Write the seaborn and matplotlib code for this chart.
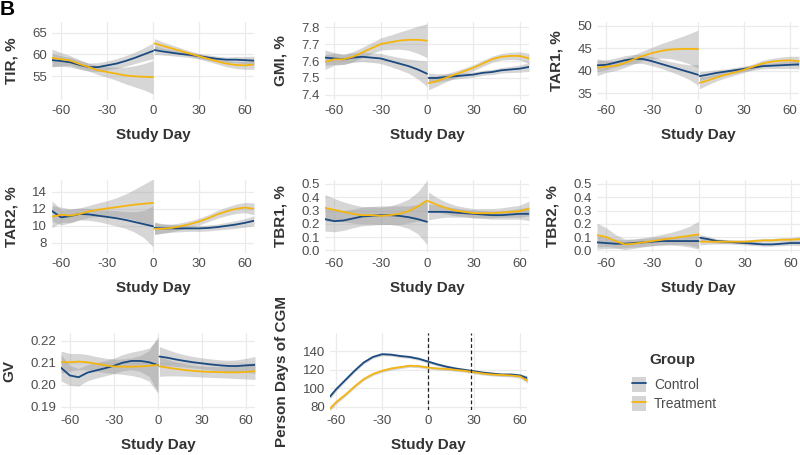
import numpy as np
import pandas as pd
import matplotlib
matplotlib.use("Agg")
import matplotlib.pyplot as plt
import seaborn as sns
from matplotlib.lines import Line2D
from matplotlib.patches import Patch

sns.set_theme(style="white")
plt.rcParams["font.family"] = ["Liberation Sans", "DejaVu Sans"]

GROUPS = ["Control", "Treatment"]
COLORS = {"Control": "#1b4a80", "Treatment": "#f5b50f"}
BAND = "#999999"

PRE_DAYS = [-66, -60, -54, -48, -42, -36, -30, -24, -18, -12, -6, 0]
POST_DAYS = [1, 6, 12, 18, 24, 30, 36, 42, 48, 54, 60, 66]
XTICKS = [-60, -30, 0, 30, 60]

# ---- TIR, % ----
tir_ctrl = [58.7, 58.5, 58.2, 57.6, 57.1, 57.1, 57.5, 57.9, 58.5, 59.2, 60.0, 60.8,
            61.0, 60.7, 60.4, 60.1, 59.9, 59.6, 59.3, 59.0, 58.8, 58.8, 58.7, 58.6]
tir_ctrl_se = [1.5, 1.2, 1.1, 1.0, 0.9, 1.0, 1.0, 1.1, 1.2, 1.3, 1.5, 1.8,
               1.0, 0.8, 0.7, 0.6, 0.6, 0.6, 0.6, 0.6, 0.6, 0.7, 0.8, 1.0]
tir_trt = [59.2, 58.9, 58.6, 57.8, 57.1, 56.4, 56.0, 55.6, 55.2, 55.0, 54.9, 54.8,
           62.5, 62.0, 61.4, 60.8, 60.2, 59.6, 59.0, 58.4, 57.9, 57.6, 57.5, 57.7]
tir_trt_se = [2.0, 1.5, 1.1, 1.0, 0.9, 1.0, 1.2, 1.5, 1.9, 2.4, 3.0, 3.8,
              1.1, 0.9, 0.8, 0.7, 0.6, 0.6, 0.6, 0.6, 0.7, 0.8, 0.9, 1.1]

# ---- GMI, % ----
gmi_ctrl = [7.62, 7.615, 7.61, 7.62, 7.625, 7.62, 7.615, 7.60, 7.585, 7.57, 7.55, 7.525,
            7.50, 7.50, 7.505, 7.51, 7.515, 7.52, 7.53, 7.535, 7.545, 7.55, 7.555, 7.565]
gmi_ctrl_se = [0.045, 0.035, 0.03, 0.028, 0.028, 0.028, 0.03, 0.032, 0.036, 0.042, 0.055, 0.075,
               0.03, 0.024, 0.02, 0.017, 0.015, 0.015, 0.015, 0.015, 0.016, 0.018, 0.021, 0.026]
gmi_trt = [7.595, 7.61, 7.61, 7.625, 7.65, 7.675, 7.70, 7.71, 7.72, 7.725, 7.725, 7.72,
           7.47, 7.48, 7.50, 7.52, 7.54, 7.56, 7.585, 7.61, 7.625, 7.63, 7.63, 7.615]
gmi_trt_se = [0.045, 0.035, 0.03, 0.03, 0.03, 0.032, 0.036, 0.042, 0.05, 0.062, 0.08, 0.10,
              0.04, 0.03, 0.024, 0.02, 0.018, 0.018, 0.018, 0.018, 0.019, 0.021, 0.024, 0.03]

# ---- TAR1, % ----
tar1_ctrl = [41.2, 41.3, 41.8, 42.3, 42.6, 42.6, 42.1, 41.5, 40.9, 40.3, 39.7, 39.1,
             38.8, 39.1, 39.5, 39.8, 40.1, 40.4, 40.7, 41.0, 41.1, 41.2, 41.3, 41.4]
tar1_ctrl_se = [1.4, 1.1, 1.0, 1.0, 1.0, 1.0, 1.0, 1.0, 1.1, 1.3, 1.6, 2.3,
                1.0, 0.8, 0.7, 0.6, 0.6, 0.6, 0.6, 0.6, 0.6, 0.7, 0.8, 1.0]
tar1_trt = [40.6, 40.9, 41.1, 41.7, 42.5, 43.3, 43.9, 44.4, 44.7, 44.8, 44.85, 44.8,
            37.3, 37.8, 38.5, 39.1, 39.6, 40.2, 40.9, 41.6, 42.0, 42.2, 42.3, 42.1]
tar1_trt_se = [1.7, 1.3, 1.1, 1.0, 1.0, 1.1, 1.3, 1.6, 2.0, 2.6, 3.3, 4.2,
               1.3, 1.0, 0.8, 0.7, 0.6, 0.6, 0.6, 0.7, 0.7, 0.8, 0.9, 1.1]

# ---- TAR2, % ----
tar2_ctrl = [11.75, 11.0, 11.15, 11.4, 11.35, 11.2, 11.05, 10.9, 10.7, 10.45, 10.2, 9.95,
             9.75, 9.7, 9.7, 9.7, 9.7, 9.7, 9.75, 9.85, 10.0, 10.15, 10.35, 10.6]
tar2_ctrl_se = [1.2, 0.9, 0.8, 0.7, 0.7, 0.7, 0.8, 0.9, 1.0, 1.2, 1.6, 2.4,
                0.7, 0.55, 0.45, 0.4, 0.35, 0.35, 0.35, 0.35, 0.4, 0.45, 0.5, 0.6]
tar2_trt = [11.1, 11.3, 11.2, 11.4, 11.7, 11.9, 12.05, 12.2, 12.35, 12.5, 12.6, 12.7,
            9.65, 9.65, 9.75, 9.95, 10.2, 10.5, 10.9, 11.35, 11.7, 12.0, 12.15, 12.0]
tar2_trt_se = [1.3, 0.9, 0.8, 0.7, 0.7, 0.8, 0.9, 1.1, 1.4, 1.8, 2.3, 2.8,
               0.7, 0.55, 0.45, 0.4, 0.4, 0.4, 0.4, 0.45, 0.5, 0.55, 0.6, 0.7]

# ---- TBR1, % ----
tbr1_ctrl = [0.235, 0.22, 0.225, 0.24, 0.255, 0.26, 0.265, 0.265, 0.26, 0.25, 0.235, 0.215,
             0.29, 0.29, 0.29, 0.285, 0.28, 0.275, 0.27, 0.265, 0.265, 0.27, 0.275, 0.275]
tbr1_ctrl_se = [0.09, 0.08, 0.075, 0.07, 0.07, 0.07, 0.07, 0.07, 0.075, 0.085, 0.11, 0.17,
                0.06, 0.05, 0.04, 0.035, 0.03, 0.03, 0.03, 0.03, 0.03, 0.035, 0.04, 0.05]
tbr1_trt = [0.32, 0.305, 0.29, 0.275, 0.265, 0.265, 0.26, 0.265, 0.275, 0.295, 0.33, 0.375,
            0.37, 0.345, 0.32, 0.30, 0.29, 0.28, 0.28, 0.28, 0.285, 0.29, 0.295, 0.315]
tbr1_trt_se = [0.10, 0.085, 0.075, 0.07, 0.065, 0.065, 0.065, 0.07, 0.08, 0.09, 0.11, 0.15,
               0.07, 0.055, 0.045, 0.04, 0.035, 0.035, 0.035, 0.035, 0.035, 0.04, 0.045, 0.055]

# ---- TBR2, % ----
tbr2_ctrl = [0.06, 0.055, 0.05, 0.05, 0.055, 0.06, 0.065, 0.07, 0.07, 0.07, 0.07, 0.07,
             0.095, 0.085, 0.07, 0.065, 0.06, 0.055, 0.05, 0.045, 0.045, 0.05, 0.055, 0.055]
tbr2_ctrl_se = [0.05, 0.04, 0.035, 0.03, 0.03, 0.03, 0.03, 0.03, 0.03, 0.035, 0.045, 0.06,
                0.025, 0.02, 0.017, 0.015, 0.014, 0.014, 0.014, 0.014, 0.014, 0.015, 0.017, 0.02]
tbr2_trt = [0.115, 0.10, 0.07, 0.045, 0.05, 0.06, 0.07, 0.08, 0.09, 0.10, 0.11, 0.12,
            0.065, 0.065, 0.065, 0.065, 0.065, 0.065, 0.07, 0.075, 0.075, 0.08, 0.08, 0.085]
tbr2_trt_se = [0.09, 0.07, 0.05, 0.04, 0.035, 0.035, 0.035, 0.04, 0.045, 0.055, 0.07, 0.10,
               0.025, 0.02, 0.017, 0.015, 0.014, 0.014, 0.014, 0.014, 0.014, 0.015, 0.017, 0.02]

# ---- GV ----
gv_ctrl = [0.2077, 0.2042, 0.2034, 0.2055, 0.2065, 0.2075, 0.2086, 0.2100, 0.2108, 0.2108, 0.2102, 0.2089,
           0.2128, 0.2123, 0.2115, 0.2108, 0.2102, 0.2097, 0.2092, 0.2088, 0.2085, 0.2085, 0.2088, 0.2090]
gv_ctrl_se = [0.006, 0.0045, 0.004, 0.0037, 0.0035, 0.0035, 0.0035, 0.0037, 0.004, 0.0048, 0.0065, 0.012,
              0.0045, 0.0038, 0.0032, 0.0028, 0.0026, 0.0025, 0.0025, 0.0025, 0.0026, 0.0028, 0.0032, 0.0038]
gv_trt = [0.2103, 0.2102, 0.2105, 0.2102, 0.2095, 0.2088, 0.2083, 0.2082, 0.2082, 0.2083, 0.2086, 0.2090,
          0.2083, 0.2078, 0.2072, 0.2067, 0.2063, 0.2060, 0.2058, 0.2057, 0.2056, 0.2056, 0.2058, 0.2062]
gv_trt_se = [0.005, 0.004, 0.0037, 0.0035, 0.0033, 0.0033, 0.0033, 0.0035, 0.004, 0.005, 0.007, 0.013,
             0.0045, 0.0038, 0.0032, 0.0028, 0.0026, 0.0025, 0.0025, 0.0025, 0.0026, 0.0028, 0.0032, 0.0038]

# ---- Person Days of CGM ----
PD_DAYS = [-64, -60, -54, -48, -42, -36, -30, -24, -18, -12, -6, 0,
           6, 12, 18, 24, 30, 36, 42, 48, 54, 60, 65]
pd_ctrl = [91, 99, 109, 119, 128, 134, 137, 136.5, 135, 134, 132, 129,
           126, 123.5, 121.5, 120, 118.5, 117, 116, 115, 115, 114, 111]
pd_trt = [78, 85, 93, 102, 110, 115.5, 119, 121.5, 123, 124.5, 124, 122.5,
          121.5, 121, 120, 119, 117.5, 116, 115, 114.5, 114, 113, 108]
pd_se = [2.5, 2.0, 1.8, 1.7, 1.6, 1.6, 1.6, 1.6, 1.6, 1.6, 1.6, 1.6,
         1.6, 1.6, 1.6, 1.6, 1.6, 1.6, 1.6, 1.6, 1.7, 1.9, 2.4]
PD_VLINES = [0, 28]

# panel layout in pixels (left, top, right, bottom) of the 800x455 figure
W, H = 800, 455
PANELS = [
    dict(label="TIR, %", c=tir_ctrl, cs=tir_ctrl_se, t=tir_trt, ts=tir_trt_se,
         yt=[55, 60, 65], yl=(49.6, 67.4), fmt="{:.0f}", box=(52, 22, 254, 100)),
    dict(label="GMI, %", c=gmi_ctrl, cs=gmi_ctrl_se, t=gmi_trt, ts=gmi_trt_se,
         yt=[7.4, 7.5, 7.6, 7.7, 7.8], yl=(7.37, 7.83), fmt="{:.1f}", box=(325, 22, 529, 100)),
    dict(label="TAR1, %", c=tar1_ctrl, cs=tar1_ctrl_se, t=tar1_trt, ts=tar1_trt_se,
         yt=[35, 40, 45, 50], yl=(33.5, 50.8), fmt="{:.0f}", box=(597, 22, 799, 100)),
    dict(label="TAR2, %", c=tar2_ctrl, cs=tar2_ctrl_se, t=tar2_trt, ts=tar2_trt_se,
         yt=[8, 10, 12, 14], yl=(6.8, 15.4), fmt="{:.0f}", box=(52, 180, 254, 253)),
    dict(label="TBR1, %", c=tbr1_ctrl, cs=tbr1_ctrl_se, t=tbr1_trt, ts=tbr1_trt_se,
         yt=[0, 0.1, 0.2, 0.3, 0.4, 0.5], yl=(-0.02, 0.53), fmt="{:.1f}", box=(325, 180, 529, 253)),
    dict(label="TBR2, %", c=tbr2_ctrl, cs=tbr2_ctrl_se, t=tbr2_trt, ts=tbr2_trt_se,
         yt=[0, 0.1, 0.2, 0.3, 0.4, 0.5], yl=(-0.02, 0.53), fmt="{:.1f}", box=(597, 180, 800, 253)),
    dict(label="GV", c=gv_ctrl, cs=gv_ctrl_se, t=gv_trt, ts=gv_trt_se,
         yt=[0.19, 0.20, 0.21, 0.22], yl=(0.1885, 0.2235), fmt="{:.2f}", box=(61, 333, 255, 410)),
]

TICK_COLOR = "#4d4d4d"
TITLE_COLOR = "#333333"
GRID_COLOR = "#ebebeb"
LW = 1.3


def make_ax(fig, box):
    l, t, r, b = box
    ax = fig.add_axes([l / W, 1 - b / H, (r - l) / W, (b - t) / H])
    for s in ax.spines.values():
        s.set_visible(False)
    ax.grid(True, color=GRID_COLOR, lw=0.9)
    ax.set_axisbelow(True)
    ax.tick_params(axis="both", length=0, pad=3.5, labelsize=9.5, labelcolor=TICK_COLOR)
    return ax


def style_labels(ax, ylabel):
    ax.set_xlabel("Study Day", fontsize=11, fontweight="bold", color=TITLE_COLOR, labelpad=8)
    ax.set_ylabel(ylabel, fontsize=11, fontweight="bold", color=TITLE_COLOR, labelpad=10)


fig = plt.figure(figsize=(8, 4.55), dpi=100)
fig.patch.set_facecolor("white")

days_all = PRE_DAYS + POST_DAYS
seg_all = ["pre"] * len(PRE_DAYS) + ["post"] * len(POST_DAYS)

for p in PANELS:
    ax = make_ax(fig, p["box"])
    rows = []
    for g, vals, se in (("Control", p["c"], p["cs"]), ("Treatment", p["t"], p["ts"])):
        for d, s, v, e in zip(days_all, seg_all, vals, se):
            rows.append(dict(day=d, seg=s, group=g, value=v, se=e, unit=g + s))
    df = pd.DataFrame(rows)
    for (g, s), sub in df.groupby(["group", "seg"]):
        ax.fill_between(sub["day"], sub["value"] - sub["se"], sub["value"] + sub["se"],
                        color=BAND, alpha=0.4, lw=0, zorder=1)
    sns.lineplot(data=df, x="day", y="value", hue="group", units="unit", estimator=None,
                 palette=COLORS, hue_order=GROUPS, ax=ax, legend=False, lw=LW, zorder=3)
    ax.set_xlim(-66, 66)
    ax.set_ylim(*p["yl"])
    ax.set_xticks(XTICKS)
    ax.set_xticklabels([str(x) for x in XTICKS])
    ax.set_yticks(p["yt"])
    ax.set_yticklabels([p["fmt"].format(y) for y in p["yt"]])
    style_labels(ax, p["label"])

# Person days panel
ax = make_ax(fig, (330, 333, 527, 410))
rows = []
for g, vals in (("Control", pd_ctrl), ("Treatment", pd_trt)):
    for d, v, e in zip(PD_DAYS, vals, pd_se):
        rows.append(dict(day=d, group=g, value=v, se=e))
dfp = pd.DataFrame(rows)
for g, sub in dfp.groupby("group"):
    ax.fill_between(sub["day"], sub["value"] - sub["se"], sub["value"] + sub["se"],
                    color=BAND, alpha=0.4, lw=0, zorder=1)
sns.lineplot(data=dfp, x="day", y="value", hue="group", estimator=None,
             palette=COLORS, hue_order=GROUPS, ax=ax, legend=False, lw=LW, zorder=3)
for v in PD_VLINES:
    ax.axvline(v, color="#222222", lw=0.9, ls=(0, (3, 2)), zorder=4)
ax.set_xlim(-64, 64.6)
ax.set_ylim(76.5, 160)
ax.set_xticks(XTICKS)
ax.set_xticklabels([str(x) for x in XTICKS])
ax.set_yticks([80, 100, 120, 140])
ax.set_yticklabels(["80", "100", "120", "140"])
style_labels(ax, "Person Days of CGM")

# Legend (title drawn separately to match spacing)
fig.text(672 / W, 1 - 360 / H, "Group", ha="center", va="center",
         fontsize=11, fontweight="bold", color=TITLE_COLOR)
handles = [(Patch(facecolor="#d4d4d4", edgecolor="none"),
            Line2D([], [], color=COLORS[g], lw=LW)) for g in GROUPS]
fig.legend(handles, GROUPS, loc="upper left",
           bbox_to_anchor=(632 / W, 1 - 377 / H), frameon=False,
           fontsize=10, handlelength=1.0, handleheight=1.3, labelspacing=0.25,
           handletextpad=0.6, borderpad=0.0, borderaxespad=0.0, labelcolor=TICK_COLOR)

fig.text(0.0, 1.0, "B", ha="left", va="top", fontsize=15, fontweight="black", color="black")

fig.savefig("out.png", dpi=100, facecolor="white")
